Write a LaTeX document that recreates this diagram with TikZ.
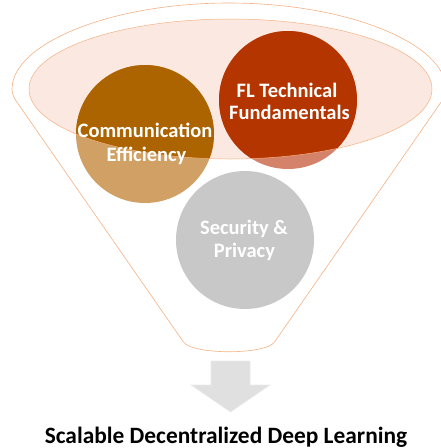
\documentclass[tikz,border=0pt]{standalone}
\usepackage{fontspec}
\setmainfont{Carlito}
\definecolor{pinkfill}{RGB}{251,233,225}
\definecolor{edgeorange}{RGB}{244,177,131}
\definecolor{commdark}{RGB}{172,100,0}
\definecolor{commlight}{RGB}{208,160,100}
\definecolor{fldark}{RGB}{180,53,0}
\definecolor{fllight}{RGB}{212,130,105}
\definecolor{secgrey}{RGB}{200,200,200}
\definecolor{arrowgrey}{RGB}{224,224,224}
\begin{document}
\begin{tikzpicture}[x=1pt,y=-1pt,
  bubble/.style={circle,minimum size=138pt,inner sep=0pt,draw=none},
  bubbletext/.style={anchor=base,inner sep=0pt,text=white,font=\fontsize{20.5}{23}\selectfont\bfseries},
  outline/.style={draw=edgeorange,line width=0.6pt}]
\useasboundingbox (0,0) rectangle (441,448);
% funnel outline
\draw[outline,rounded corners=6pt] (446,95) arc[start angle=0,end angle=180,x radius=217pt,y radius=92pt]
  -- (180,337) .. controls (192.5,355) and (265.5,355) .. (278,337) -- cycle;
% inner ellipse fill
\fill[pinkfill] (230.5,89) ellipse[x radius=201.5pt,y radius=70pt];
% circles (light part)
\node[bubble,fill=commlight] (comm) at (145,134) {};
\node[bubble,fill=fllight] (fl) at (288,100) {};
\node[bubble,fill=secgrey] (sec) at (245,240) {};
% dark parts inside the ellipse
\begin{scope}
  \clip (230.5,89) ellipse[x radius=201.5pt,y radius=70pt];
  \fill[commdark] (comm.center) circle[radius=69pt];
  \fill[fldark] (fl.center) circle[radius=69pt];
\end{scope}
\draw[outline,line width=0.5pt] (230.5,89) ellipse[x radius=201.5pt,y radius=70pt];
% texts
\node[bubbletext] (comm1) at (145,137) {Communication};
\node[bubbletext] (comm2) at (146.5,161) {Efficiency};
\node[bubbletext] (fl1) at (287,97.5) {FL Technical};
\node[bubbletext] (fl2) at (289.5,119.5) {Fundamentals};
\node[bubbletext] (sec1) at (244,234) {Security \&};
\node[bubbletext] (sec2) at (244.5,257) {Privacy};
% arrow
\draw[fill=arrowgrey,draw=white!92!black,line width=0.6pt]
  (211,361) -- (250,361) -- (250,385) -- (270,385) -- (230.5,412) -- (191,385) -- (211,385) -- cycle;
% title
\node[anchor=base,inner sep=0pt,font=\fontsize{23.4}{28}\selectfont\bfseries] (title) at (226,443) {Scalable Decentralized Deep Learning};
\end{tikzpicture}
\end{document}
